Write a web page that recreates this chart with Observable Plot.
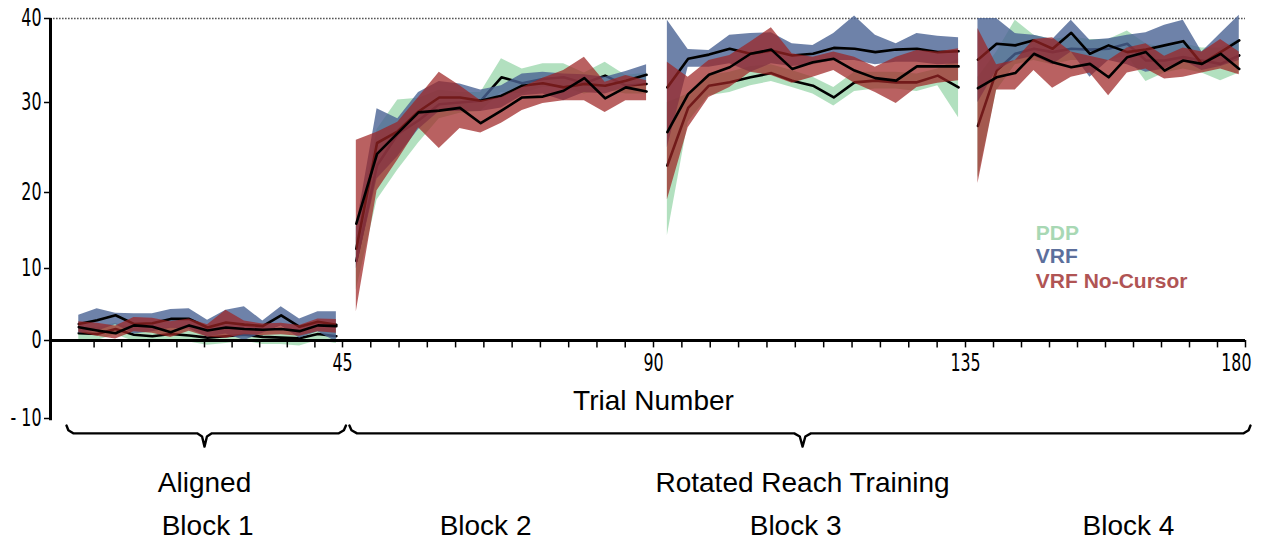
<!DOCTYPE html>
<html><head><meta charset="utf-8">
<script src="https://cdn.jsdelivr.net/npm/d3@7"></script>
<script src="https://cdn.jsdelivr.net/npm/@observablehq/plot@0.6"></script>
<style>
body{margin:0;background:#fff;}
#chart svg{display:block;}
</style></head><body><div id="chart"></div>
<script>
// ---------- data ----------
const groups = ["PDP", "VRF", "VRF No-Cursor"];
const blockLabels = ["Block 1", "Block 2", "Block 3", "Block 4"];
const blockCenters = [23, 65.7, 110.5, 161.2];
const phaseLabels = ["Aligned", "Rotated Reach Training"];
const phaseStart = [0, 46];
const phaseEnd = [45.5, 180.8];
const phaseMid = [22.5, 111.5];
const xTickLabels = [45, 90, 135, 180];
const yTickLabels = [-10, 0, 10, 20, 30, 40];
// 15 bins of 3 trials per block (bin centre trial numbers)
const trialBins = [
  2,5,8,11,14,17,20,23,26,29,32,35,38,41,44,
  47,50,53,56,59,62,65,68,71,74,77,80,83,86,89,
  92,95,98,101,104,107,110,113,116,119,122,125,128,131,134,
  137,140,143,146,149,152,155,158,161,164,167,170,173,176,179
];

const pdpMean = [
  1.0,0.9,1.6,0.8,0.6,0.9,0.7,0.4,0.6,0.8,0.5,0.4,0.3,0.9,0.6,
  11.0,23.0,26.5,28.0,29.8,30.0,30.2,33.0,32.3,32.8,33.0,32.3,33.2,32.0,32.2,
  23.0,29.4,32.0,32.4,33.0,33.5,32.6,32.0,30.6,32.4,32.6,32.4,32.4,33.2,31.8,
  27.4,33.8,35.8,36.4,36.0,36.4,36.3,36.4,37.0,35.0,35.0,35.4,35.0,34.6,35.6
];
const pdpLo = [
  0.1,0.0,0.8,-0.1,-0.3,0.0,-0.2,-0.6,-0.4,-0.1,-0.5,-0.5,-0.7,0.0,-0.4,
  7.0,19.0,22.5,25.5,28.2,28.8,29.0,31.2,31.0,31.8,31.8,31.0,31.5,31.0,31.0,
  14.3,27.8,30.8,31.2,32.0,32.5,31.8,31.0,29.6,31.3,31.6,31.6,31.3,32.0,28.3,
  21.6,31.4,34.5,35.0,34.5,35.0,35.0,35.0,35.5,32.5,33.5,34.0,33.5,32.6,33.5
];
const pdpHi = [
  1.9,1.8,2.4,1.7,1.5,1.8,1.6,1.3,1.5,1.7,1.4,1.3,1.2,1.8,1.5,
  14.0,27.0,30.3,30.5,31.5,31.2,31.2,35.2,34.0,34.6,34.6,33.5,34.8,33.2,33.5,
  30.0,31.0,33.2,33.6,34.3,34.5,33.8,33.0,31.8,33.6,33.6,33.6,33.4,34.0,35.2,
  33.0,36.0,39.8,38.0,37.5,37.8,37.5,37.5,38.5,37.0,36.5,37.0,36.5,36.5,37.5
];
const vrfMean = [
  2.3,2.8,3.5,2.3,2.4,3.0,3.0,1.8,2.5,2.2,2.0,3.5,1.9,2.6,2.2,
  12.6,25.5,26.8,29.0,30.6,30.6,30.2,30.8,32.0,32.3,31.8,32.2,32.0,32.6,33.3,
  31.8,35.2,35.7,36.4,35.8,36.2,35.6,35.8,36.5,36.4,36.0,36.3,36.4,36.0,36.1,
  35.1,37.0,36.8,37.4,36.4,38.3,35.8,36.8,36.0,36.3,36.8,37.3,34.6,36.0,37.4
];
const vrfLo = [
  1.0,1.3,2.2,0.9,1.2,1.7,1.6,0.5,0.9,0.0,1.0,2.0,0.3,1.2,-0.2,
  10.0,21.5,24.0,27.0,29.0,29.0,29.0,29.4,30.8,31.0,30.2,31.2,31.0,31.8,32.3,
  25.0,34.2,34.2,34.6,33.6,34.6,34.3,34.5,35.0,35.0,34.5,34.8,34.8,34.5,34.6,
  30.0,33.8,35.0,35.5,34.5,36.0,33.0,35.0,34.5,33.6,34.0,35.0,33.8,34.3,35.0
];
const vrfHi = [
  3.5,4.4,3.8,3.7,3.7,4.3,4.4,2.8,4.2,4.7,2.7,4.7,3.0,4.0,4.0,
  15.5,29.3,28.2,31.2,32.5,32.2,31.5,32.0,33.4,33.6,33.4,33.3,33.0,33.7,34.5,
  39.8,36.3,36.2,38.0,38.2,38.3,37.0,36.8,38.2,40.3,38.0,37.0,38.2,37.9,37.7,
  40.0,40.0,38.2,38.0,37.5,39.8,37.4,37.6,38.0,38.3,39.2,39.8,36.0,38.2,40.4
];
const ncMean = [
  1.85,1.4,1.0,2.1,1.9,1.15,2.1,1.4,1.8,1.6,1.5,1.6,1.3,2.1,2.0,
  15.9,24.3,26.6,28.9,29.1,29.4,27.7,29.1,30.6,30.7,31.4,32.9,30.5,31.8,31.3,
  26.7,31.0,33.3,34.2,35.8,36.3,34.0,34.8,35.2,33.8,32.9,32.6,34.3,34.3,34.3,
  31.7,33.0,33.5,35.8,34.8,34.2,34.6,33.0,35.4,36.0,33.8,35.0,34.6,35.8,34.0
];
const ncLo = [
  1.1,0.6,0.2,1.2,1.0,0.4,1.3,0.5,0.3,0.8,0.7,0.8,0.6,1.2,1.0,
  4.0,20.2,23.6,27.2,24.9,27.1,26.6,27.7,29.1,29.9,30.2,30.2,28.9,30.2,30.2,
  19.0,27.2,30.6,31.8,33.6,33.2,32.3,33.0,33.8,32.3,31.2,29.9,31.8,32.3,32.6,
  21.0,31.5,31.5,33.8,31.7,33.0,33.5,30.8,33.5,34.0,32.8,33.0,33.5,34.0,33.3
];
const ncHi = [
  2.6,2.4,2.0,3.2,3.1,2.6,3.0,2.2,4.2,2.7,2.3,2.4,2.1,3.0,2.9,
  25.8,26.7,27.8,30.6,33.6,32.0,30.2,30.6,31.8,32.9,33.8,35.4,32.4,33.2,32.6,
  34.8,33.0,35.0,35.6,37.2,38.9,35.8,35.4,36.0,35.4,34.2,35.4,36.2,36.0,36.4,
  38.8,34.5,35.0,37.5,37.7,36.0,35.5,35.0,36.5,37.0,35.5,36.5,36.0,37.5,36.0
];

// ---------- tables ----------
const series = [
  {name: groups[0], mean: pdpMean, lo: pdpLo, hi: pdpHi, fill: "#7fcc95", op: 0.6, legend: "#a8d8b4"},
  {name: groups[1], mean: vrfMean, lo: vrfLo, hi: vrfHi, fill: "#4a6393", op: 0.8, legend: "#5c6f9c"},
  {name: groups[2], mean: ncMean, lo: ncLo, hi: ncHi, fill: "#9e2424", op: 0.72, legend: "#b05454"}
];
const rows = s => trialBins.map((t, i) => ({trial: t, block: Math.floor(i / 15), mean: s.mean[i], lo: s.lo[i], hi: s.hi[i]}));

// minor ticks on the trial axis (10 / 11 / 11 / 10 divisions per block)
const minorTicks = [
  ...d3.range(1, 11).map(k => 4.5 * k),
  ...d3.range(1, 12).map(k => 45 + k * 45 / 11),
  ...d3.range(1, 12).map(k => 90 + k * 45 / 11),
  ...d3.range(1, 11).map(k => 135 + 4.5 * k)
];

// brace outline built from each phase span
function brace(i) {
  const a = phaseStart[i], b = phaseEnd[i], m = phaseMid[i];
  return [
    [a, -10.9], [a + 0.3, -11.5], [a + 1.1, -11.9],
    [m - 1.2, -11.9], [m - 0.4, -12.3], [m, -13.6], [m + 0.4, -12.3], [m + 1.2, -11.9],
    [b - 1.1, -11.9], [b - 0.3, -11.5], [b, -10.9]
  ].map(([x, y]) => ({x, y, phase: i}));
}
const braces = [...brace(0), ...brace(1)];

// the figure's axes are piecewise (hand-assembled blocks): transform before the linear scale
const xPiece = d3.scaleLinear().domain([-2.6, 0, 45, 90, 135, 180]).range([50, 66, 342, 653, 965, 1245]);
const yPiece = d3.scaleLinear().domain([-26, -10, 0, 10, 20, 30, 40]).range([543, 418, 340, 268, 192, 102, 18]);

const sans = "'Liberation Sans', Arial, Helvetica, sans-serif";
const digits = "DejaVu Sans";
const lastTick = xTickLabels[xTickLabels.length - 1];

const marks = [];
marks.push(Plot.ruleY([40], {x1: -2.6, x2: 180, stroke: "#555", strokeWidth: 1.6, strokeDasharray: "1.6,1.4"}));
for (const s of series) {
  const d = rows(s);
  marks.push(Plot.areaY(d, {x: "trial", y1: "lo", y2: "hi", z: "block", fill: s.fill, fillOpacity: s.op}));
  marks.push(Plot.lineY(d, {x: "trial", y: "mean", z: "block", stroke: "#000", strokeWidth: 2.6}));
}
marks.push(Plot.ruleY([0], {x1: -2.6, x2: 180, stroke: "#000", strokeWidth: 3}));
marks.push(Plot.ruleX([-2.6], {y1: -10.3, y2: 40, stroke: "#000", strokeWidth: 3}));
marks.push(Plot.ruleX(minorTicks, {x: d => d, y1: 0, y2: -0.95, stroke: "#000", strokeWidth: 1.5}));
marks.push(Plot.text(xTickLabels.filter(d => d !== lastTick), {x: d => d, y: -2.9, text: d => String(d), fontSize: 24, fontFamily: digits, fill: "#000"}));
marks.push(Plot.text([lastTick], {x: d => d, y: -2.9, text: d => String(d), fontSize: 24, fontFamily: digits, fill: "#000", textAnchor: "end", dx: 6}));
marks.push(Plot.axisY(yTickLabels, {anchor: "left", tickSize: 6, tickPadding: 3, strokeWidth: 1.5,
  tickFormat: d => d === -10 ? "- 10" : String(d), fontSize: 24, fontFamily: digits, color: "#000"}));
marks.push(Plot.text(["Trial Number"], {x: 90, y: -7.7, text: d => d, fontSize: 28, fontFamily: sans, fill: "#000"}));
marks.push(Plot.line(braces, {x: "x", y: "y", z: "phase", stroke: "#000", strokeWidth: 2.4, curve: "linear"}));
marks.push(Plot.text(phaseLabels, {x: (d, i) => phaseMid[i], y: -18.3, text: d => d, fontSize: 28, fontFamily: sans, fill: "#000"}));
marks.push(Plot.text(blockLabels, {x: (d, i) => blockCenters[i], y: -23.7, text: d => d, fontSize: 28, fontFamily: sans, fill: "#000"}));
marks.push(Plot.text(series, {x: 146.3, y: (d, i) => [14.7, 11.6, 8.2][i], text: "name", fill: d => d.legend,
  textAnchor: "start", fontSize: 21, fontWeight: "bold", fontFamily: sans}));

const chart = Plot.plot({
  width: 1267,
  height: 544,
  marginLeft: 50, marginRight: 22, marginTop: 18, marginBottom: 1,
  style: {background: "#fff", overflow: "visible"},
  x: {transform: xPiece, domain: [0, 1267], range: [0, 1267], axis: null},
  y: {transform: yPiece, domain: [0, 544], range: [0, 544], axis: null},
  marks
});
document.getElementById("chart").appendChild(chart);
// the figure's numerals are tall and condensed: squeeze the glyphs horizontally
chart.querySelectorAll('g[font-family="DejaVu Sans"] text').forEach(t => {
  const w = t.getComputedTextLength();
  if (w > 0) {
    t.setAttribute("textLength", (w * 0.66).toFixed(1));
    t.setAttribute("lengthAdjust", "spacingAndGlyphs");
  }
});
</script>
</body></html>
